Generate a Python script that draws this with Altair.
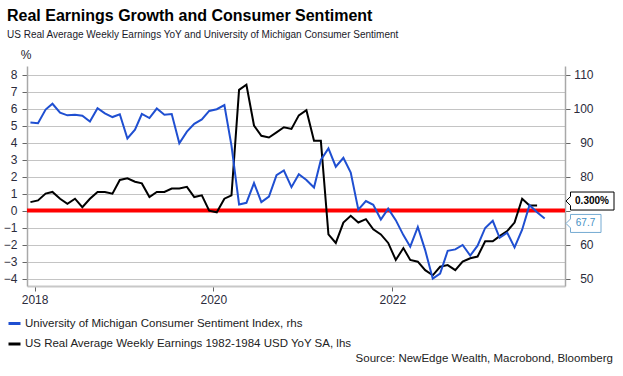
import altair as alt
import pandas as pd

FONT = "Liberation Sans"
BLUE = "#1f4fd1"
BLACK = "#000000"
RED = "#ff0000"
LABEL = "#2b2b3b"

TITLE = "Real Earnings Growth and Consumer Sentiment"
SUBTITLE = "US Real Average Weekly Earnings YoY and University of Michigan Consumer Sentiment"
SOURCE = "Source: NewEdge Wealth, Macrobond, Bloomberg"
SENT_NAME = "University of Michigan Consumer Sentiment Index, rhs"
EARN_NAME = "US Real Average Weekly Earnings 1982-1984 USD YoY SA, lhs"

# Monthly data, first observation December 2017
sentiment = [
    95.9,
    95.7, 99.7, 101.4, 98.8, 98.0, 98.2, 97.9, 96.2, 100.1, 98.6, 97.5, 98.3,
    91.2, 93.8, 98.4, 97.2, 100.0, 98.2, 98.4, 89.8, 93.2, 95.5, 96.8, 99.3,
    99.8, 101.0, 89.1, 71.8, 72.3, 78.1, 72.5, 74.1, 80.4, 81.8, 76.9, 80.7,
    79.0, 76.8, 84.9, 88.3, 82.9, 85.5, 81.2, 70.3, 72.8, 71.7, 67.4, 70.6,
    67.2, 62.8, 59.4, 65.2, 58.4, 50.0, 51.5, 58.2, 58.6, 59.9, 56.8, 59.7,
    64.9, 67.0, 62.0, 63.5, 59.2, 64.4, 71.6, 69.5, 67.7,
]
earnings = [
    0.5,
    0.6, 1.0, 1.1, 0.7, 0.4, 0.7, 0.2, 0.7, 1.1, 1.1, 1.0, 1.8,
    1.9, 1.7, 1.6, 0.8, 1.1, 1.1, 1.3, 1.3, 1.4, 0.8, 0.9, 0.0,
    -0.1, 0.7, 0.9, 7.1, 7.4, 5.0, 4.4, 4.3, 4.6, 4.9, 4.8, 5.6,
    5.9, 4.1, 4.1, -1.4, -1.9, -0.7, -0.3, -0.7, -0.5, -1.1, -1.4, -1.9,
    -2.9, -2.2, -2.9, -3.0, -3.5, -3.8, -3.3, -3.2, -3.5, -3.0, -2.8, -2.7,
    -1.8, -1.8, -1.5, -1.2, -0.7, 0.7, 0.3, 0.3,
]
left_ticks = [-4, -3, -2, -1, 0, 1, 2, 3, 4, 5, 6, 7, 8]
right_ticks = [50, 60, 70, 80, 90, 100, 110]
right_hidden_label = 70  # covered by the end-value callouts in the original
x_tick_years = [2018, 2020, 2022]


def month_dates(n, y=2017, m=12):
    out = []
    for _ in range(n):
        out.append(f"{y}-{m:02d}-15T00:00:00")
        m += 1
        if m > 12:
            m, y = 1, y + 1
    return out


sent_df = pd.DataFrame({"date": month_dates(len(sentiment)), "val": sentiment, "series": SENT_NAME})
earn_df = pd.DataFrame({"date": month_dates(len(earnings)), "val": earnings, "series": EARN_NAME})

xscale = alt.Scale(domain=[alt.DateTime(year=2017, month=12, date=1),
                           alt.DateTime(year=2023, month=12, date=7)], nice=False)
xaxis = alt.Axis(values=[alt.DateTime(year=y, month=1, date=1) for y in x_tick_years],
                 format="%Y", title=None, grid=False, tickSize=5, tickColor="#666666",
                 domainColor="#c8c8c8", domainWidth=2, labelFontSize=12, labelColor=LABEL,
                 labelPadding=3, labelFlush=False, labelOverlap=False, labelFont=FONT)
xenc = alt.X("date:T", scale=xscale, axis=xaxis)

yleft = alt.Y("val:Q", scale=alt.Scale(domain=[-4.43, 8.5], nice=False, zero=False),
              axis=alt.Axis(values=left_ticks, orient="left", title=None, grid=True,
                            gridColor="#c4c4c4", gridWidth=1.2, tickSize=5, tickColor="#666666",
                            domainColor="#a8a8a8", domainWidth=1.5, labelFontSize=12,
                            labelPadding=5, labelColor=LABEL, labelFont=FONT))
yright = alt.Y("val:Q", scale=alt.Scale(domain=[47.85, 112.5], nice=False, zero=False),
               axis=alt.Axis(values=right_ticks, orient="right", title=None, grid=False,
                             tickSize=5, tickColor="#666666", domainColor="#a8a8a8",
                             domainWidth=1.5, labelFontSize=12, labelAlign="right",
                             labelPadding=23, labelColor=LABEL, labelFont=FONT,
                             labelExpr=f"datum.value == {right_hidden_label} ? '' : datum.label"))

color = alt.Color("series:N",
                  scale=alt.Scale(domain=[SENT_NAME, EARN_NAME], range=[BLUE, BLACK]),
                  legend=alt.Legend(title=None, orient="none", legendX=-20, legendY=250,
                                    symbolType="stroke", symbolSize=144, symbolStrokeWidth=3,
                                    labelFontSize=11.5, labelFont=FONT, labelColor="#222222",
                                    labelOffset=3, rowPadding=6.5, padding=0, labelLimit=0,
                                    direction="vertical"))

earn_line = alt.Chart(earn_df).mark_line(strokeWidth=2).encode(x=xenc, y=yleft, color=color)
sent_line = alt.Chart(sent_df).mark_line(strokeWidth=2).encode(x=xenc, y=yright, color=color)

zero_rule = alt.Chart(pd.DataFrame({"val": [0]})).mark_rule(color=RED, strokeWidth=4).encode(y=yleft)

BLACK_BOX = "M0,0L0.45,-0.45L0.45,-0.9L4.8,-0.9L4.8,0.9L0.45,0.9L0.45,0.45Z"
BLUE_BOX = "M0,0L0.45,-0.45L0.45,-0.9L3.5,-0.9L3.5,0.9L0.45,0.9L0.45,0.45Z"

earn_last = pd.DataFrame({"val": [earnings[-1]], "label": [f"{earnings[-1]:.3f}%"]})
sent_last = pd.DataFrame({"val": [sentiment[-1]], "label": [f"{sentiment[-1]:.1f}"]})

earn_box = alt.Chart(earn_last).mark_point(
    shape=BLACK_BOX, size=400, fill="white", stroke="black", strokeWidth=1,
    opacity=1, fillOpacity=1, yOffset=-4.5).encode(x=alt.value(539), y=yleft)
earn_txt = alt.Chart(earn_last).mark_text(
    font=FONT, fontSize=10, fontWeight="bold", align="center", baseline="middle",
    color="black", yOffset=-4.5).encode(x=alt.value(565), y=yleft, text="label:N")

sent_box = alt.Chart(sent_last).mark_point(
    shape=BLUE_BOX, size=400, fill="white", stroke="#74aad2", strokeWidth=1,
    opacity=1, fillOpacity=1, yOffset=5).encode(x=alt.value(539), y=yright)
sent_txt = alt.Chart(sent_last).mark_text(
    font=FONT, fontSize=10, align="center", baseline="middle",
    color="#3f8fc4", yOffset=5).encode(x=alt.value(558.5), y=yright, text="label:N")


def text_layer(txt, x, y, size, weight="normal", align="left", color="#000000"):
    return alt.Chart(pd.DataFrame({"t": [txt]})).mark_text(
        font=FONT, fontSize=size, fontWeight=weight, align=align,
        baseline="alphabetic", color=color).encode(
        x=alt.value(x), y=alt.value(y), text="t:N")


title = text_layer(TITLE, -20, -45, 16, weight="bold")
subtitle = text_layer(SUBTITLE, -20, -28.5, 10, color="#1a1a2a")
pct = text_layer("%", -1, -7, 12, align="center", color="#1a1a2a")
source = text_layer(SOURCE, 586, 296, 11.5, align="right", color="#222222")

left = alt.layer(zero_rule, earn_line, earn_box, earn_txt, title, subtitle, pct, source)
right = alt.layer(sent_line, sent_box, sent_txt)

chart = alt.layer(left, right).resolve_scale(y="independent").properties(
    width=538, height=220,
    autosize=alt.AutoSizeParams(type="none"),
    padding={"left": 27, "top": 66, "right": 58, "bottom": 90},
    background="white",
).configure(font=FONT).configure_view(stroke=None)

chart.save("out.html", embed_options={"renderer": "svg", "actions": False})
